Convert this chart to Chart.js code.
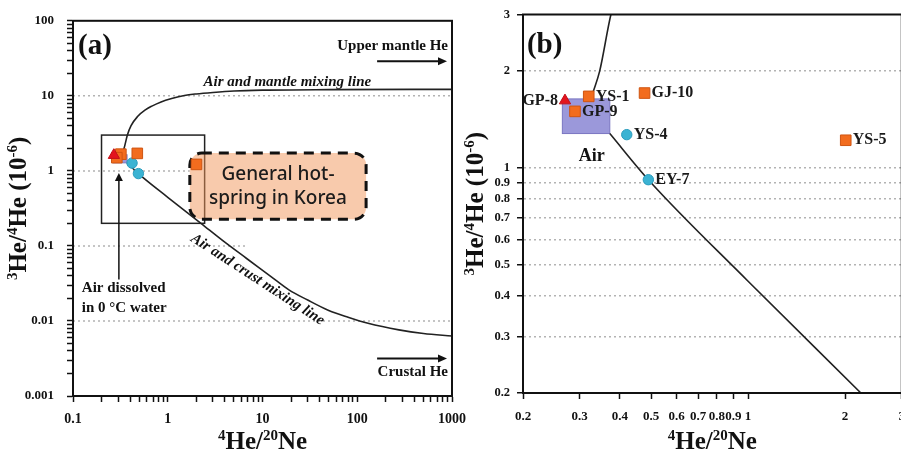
<!DOCTYPE html>
<html><head><meta charset="utf-8">
<script src="https://cdn.jsdelivr.net/npm/chart.js@4.4.1/dist/chart.umd.min.js"></script>
<style>
html,body{margin:0;padding:0;background:#fff;overflow:hidden;width:901px;height:453px;position:relative;}
#ca{position:absolute;left:0;top:0;z-index:2;}
#cb{position:absolute;left:460px;top:0;z-index:1;}
</style></head><body>
<canvas id="ca" width="480" height="453"></canvas>
<canvas id="cb" width="455" height="453"></canvas>
<script>
// ---------- data ----------
const triNames = ['GP-8'];
const triX = [0.27];
const triY = [1.62];
const sqNames = ['YS-1', 'GP-9', 'GJ-10', 'YS-5'];
const sqX = [0.32, 0.29, 0.477, 2.01];
const sqY = [1.67, 1.50, 1.71, 1.22];
const ciNames = ['YS-4', 'EY-7'];
const ciX = [0.42, 0.49];
const ciY = [1.27, 0.92];

// mixing lines
const mantleLineX = [0.33, 0.346, 0.375, 0.41, 0.48, 0.58, 0.68, 0.85, 1.1, 1.5, 2, 3, 5, 10, 50, 1000];
const mantleLineY = [1.72, 2.0, 3.0, 4.0, 5.3, 6.5, 7.3, 8.3, 9.2, 10.1, 10.6, 11.1, 11.6, 11.9, 12.1, 12.2];
const crustLineX = [0.372, 0.49, 1.0, 2.24, 4, 6.8, 12, 19, 30, 50, 80, 130, 275, 500, 1000];
const crustLineY = [1.28, 0.92, 0.445, 0.2, 0.112, 0.068, 0.04, 0.026, 0.019, 0.0138, 0.0112, 0.0093, 0.0076, 0.0068, 0.0063];

// regions
const airBoxX = [0.265, 0.372];
const airBoxY = [1.28, 1.64];
const zoomBoxX = [0.2, 2.45];
const zoomBoxY = [0.2, 3];
const hotSpringBoxX = [1.71, 124];
const hotSpringBoxY = [0.227, 1.725];
const airWaterHeNe = 0.305;

// ticks
const aTicksX = [0.1, 1, 10, 100, 1000];
const aTicksY = [0.001, 0.01, 0.1, 1, 10, 100];
const bTicksX = [0.2, 0.3, 0.4, 0.5, 0.6, 0.7, 0.8, 0.9, 1, 2, 3];
const bTicksY = [0.2, 0.3, 0.4, 0.5, 0.6, 0.7, 0.8, 0.9, 1, 2, 3];
// dotted reference lines of panel (a): level and x where each ends
const aGridY = [10, 1, 0.1, 0.01];
const aGridEndX = [1000, 1.71, 6.8, 1000];

// axis titles (text, superscript flag)
const xTitleParts = [['4', true], ['He/', false], ['20', true], ['Ne', false]];
const yTitleParts = [['3', true], ['He/', false], ['4', true], ['He (10', false], ['-6', true], [')', false]];

// ---------- helpers ----------
const SERIF = "'Liberation Serif','Times New Roman',serif";
const SANS = "'Noto Sans','Open Sans',sans-serif";
const pts = (xs, ys) => xs.map((x, i) => ({x, y: ys[i]}));
function logTicks(majors) {
  const out = [];
  majors.forEach((M, i) => {
    out.push(M);
    if (i < majors.length - 1) for (let m = 2; m <= 9; m++) out.push(+(m * M).toPrecision(6));
  });
  return out;
}
function P(chart, x, y) { return [chart.scales.x.getPixelForValue(x), chart.scales.y.getPixelForValue(y)]; }
function txt(ctx, s, x, y, font, align, base, rot, color) {
  ctx.save();
  ctx.font = font; ctx.fillStyle = color || '#111';
  ctx.textAlign = align || 'left'; ctx.textBaseline = base || 'middle';
  ctx.translate(x, y);
  if (rot) ctx.rotate(rot * Math.PI / 180);
  ctx.fillText(s, 0, 0);
  ctx.restore();
}
// rich title with superscripts, centred on (x, y)
function richTitle(ctx, parts, x, y, rot) {
  const main = `bold 25px ${SERIF}`, sup = `bold 15px ${SERIF}`;
  ctx.save();
  let w = 0;
  parts.forEach(([t, s]) => { ctx.font = s ? sup : main; w += ctx.measureText(t).width; });
  ctx.translate(x, y);
  if (rot) ctx.rotate(rot * Math.PI / 180);
  ctx.fillStyle = '#111'; ctx.textBaseline = 'alphabetic'; ctx.textAlign = 'left';
  let cx = -w / 2;
  parts.forEach(([t, s]) => {
    ctx.font = s ? sup : main;
    ctx.fillText(t, cx, s ? -1 : 8);
    cx += ctx.measureText(t).width;
  });
  ctx.restore();
}
function arrow(ctx, x1, y1, x2, y2, lw, hl, hw) {
  const a = Math.atan2(y2 - y1, x2 - x1), c = Math.cos(a), s = Math.sin(a);
  ctx.save(); ctx.strokeStyle = '#111'; ctx.fillStyle = '#111'; ctx.lineWidth = lw;
  ctx.beginPath(); ctx.moveTo(x1, y1); ctx.lineTo(x2 - hl * c, y2 - hl * s); ctx.stroke();
  ctx.beginPath(); ctx.moveTo(x2, y2);
  ctx.lineTo(x2 - hl * c + hw * s, y2 - hl * s - hw * c);
  ctx.lineTo(x2 - hl * c - hw * s, y2 - hl * s + hw * c);
  ctx.closePath(); ctx.fill(); ctx.restore();
}
function airBox(chart) {
  const ctx = chart.ctx;
  const [x0, y0] = P(chart, airBoxX[0], airBoxY[1]);
  const [x1, y1] = P(chart, airBoxX[1], airBoxY[0]);
  ctx.save(); ctx.fillStyle = '#9b98da'; ctx.strokeStyle = '#7a76c2'; ctx.lineWidth = 1;
  ctx.fillRect(x0, y0, x1 - x0, y1 - y0); ctx.strokeRect(x0, y0, x1 - x0, y1 - y0); ctx.restore();
}
function frameAndTitles(chart, yTitleX) {
  const a = chart.chartArea, ctx = chart.ctx;
  ctx.save(); ctx.strokeStyle = '#111'; ctx.lineWidth = 2;
  ctx.strokeRect(a.left, a.top, a.right - a.left, a.bottom - a.top); ctx.restore();
  richTitle(ctx, xTitleParts, (a.left + a.right) / 2, 441, 0);
  richTitle(ctx, yTitleParts, yTitleX, (a.top + a.bottom) / 2, -90);
}

function pointSets() {
  return [
    {label: 'tri', data: pts(triX, triY), pointStyle: 'triangle', pointRadius: 6.5, backgroundColor: '#e3141e', borderColor: '#c40f18', borderWidth: 1, order: 0, names: triNames},
    {label: 'sq', data: pts(sqX, sqY), pointStyle: 'rect', pointRadius: 7.5, backgroundColor: '#f26c1e', borderColor: '#cf5512', borderWidth: 1, order: 0, names: sqNames},
    {label: 'ci', data: pts(ciX, ciY), pointStyle: 'circle', pointRadius: 5.2, backgroundColor: '#3bb3d3', borderColor: '#2a9cbd', borderWidth: 1, order: 0, names: ciNames},
    {label: 'mantle', data: pts(mantleLineX, mantleLineY), showLine: true, pointRadius: 0, borderColor: '#222', borderWidth: 1.6, cubicInterpolationMode: 'monotone', order: 2},
    {label: 'crust', data: pts(crustLineX, crustLineY), showLine: true, pointRadius: 0, borderColor: '#222', borderWidth: 1.6, cubicInterpolationMode: 'monotone', order: 2}
  ];
}

// ---------- panel (a) ----------
const aValsX = logTicks(aTicksX), aValsY = logTicks(aTicksY);
const plugA = {
  id: 'annA',
  beforeDatasetsDraw(chart) {
    const ctx = chart.ctx;
    ctx.save(); ctx.strokeStyle = '#b3b3b3'; ctx.lineWidth = 1.5; ctx.setLineDash([2, 3]);
    aGridY.forEach((g, i) => {
      const [x0, y] = P(chart, aTicksX[0], g); const [x1] = P(chart, aGridEndX[i], g);
      ctx.beginPath(); ctx.moveTo(x0, y); ctx.lineTo(x1, y); ctx.stroke();
    });
    ctx.restore();
    const [zx0, zy0] = P(chart, zoomBoxX[0], zoomBoxY[1]);
    const [zx1, zy1] = P(chart, zoomBoxX[1], zoomBoxY[0]);
    ctx.save(); ctx.strokeStyle = '#222'; ctx.lineWidth = 1.5;
    ctx.strokeRect(zx0, zy0, zx1 - zx0, zy1 - zy0); ctx.restore();
    airBox(chart);
    const [hx0, hy0] = P(chart, hotSpringBoxX[0], hotSpringBoxY[1]);
    const [hx1, hy1] = P(chart, hotSpringBoxX[1], hotSpringBoxY[0]);
    ctx.save(); ctx.beginPath();
    if (ctx.roundRect) ctx.roundRect(hx0, hy0, hx1 - hx0, hy1 - hy0, 12); else ctx.rect(hx0, hy0, hx1 - hx0, hy1 - hy0);
    ctx.fillStyle = 'rgba(242,150,90,0.5)'; ctx.fill();
    ctx.setLineDash([10, 7]); ctx.lineWidth = 3; ctx.strokeStyle = '#111'; ctx.stroke(); ctx.restore();
    const cx = (hx0 + hx1) / 2;
    txt(ctx, 'General hot-', cx, P(chart, 1, 0.886)[1], `500 19px ${SANS}`, 'center', 'middle', 0, '#1c1c1c');
    txt(ctx, 'spring in Korea', cx, P(chart, 1, 0.428)[1], `500 19px ${SANS}`, 'center', 'middle', 0, '#1c1c1c');
  },
  afterDatasetsDraw(chart) {
    const ctx = chart.ctx;
    let p;
    p = P(chart, 0.113, 35.7); txt(ctx, '(a)', p[0], p[1], `bold 29px ${SERIF}`, 'left', 'alphabetic');
    p = P(chart, 908, 45.5); txt(ctx, 'Upper mantle He', p[0], p[1], `bold 15px ${SERIF}`, 'right', 'middle');
    let a0 = P(chart, 162, 28.9), a1 = P(chart, 886, 28.9); arrow(ctx, a0[0], a0[1], a1[0], a1[1], 2, 9, 4);
    p = P(chart, 18.3, 15.3); txt(ctx, 'Air and mantle mixing line', p[0], p[1], `italic bold 15px ${SERIF}`, 'center', 'middle');
    p = P(chart, 0.124, 0.027); txt(ctx, 'Air dissolved', p[0], p[1], `bold 15px ${SERIF}`, 'left', 'middle');
    p = P(chart, 0.124, 0.0148); txt(ctx, 'in 0 \u00B0C water', p[0], p[1], `bold 15px ${SERIF}`, 'left', 'middle');
    a0 = P(chart, airWaterHeNe, 0.0356); a1 = P(chart, airWaterHeNe, 0.94); arrow(ctx, a0[0], a0[1], a1[0], a1[1], 1.5, 8, 4);
    p = P(chart, 908, 0.00209); txt(ctx, 'Crustal He', p[0], p[1], `bold 15px ${SERIF}`, 'right', 'middle');
    a0 = P(chart, 162, 0.00316); a1 = P(chart, 886, 0.00316); arrow(ctx, a0[0], a0[1], a1[0], a1[1], 2, 9, 4);
    p = P(chart, 8.86, 0.0356); txt(ctx, 'Air and crust mixing line', p[0], p[1], `italic bold 15px ${SERIF}`, 'center', 'middle', 33);
    frameAndTitles(chart, 18);
  }
};

new Chart(document.getElementById('ca'), {
  type: 'scatter',
  data: {datasets: pointSets()},
  options: {
    responsive: false, animation: false, events: [],
    layout: {padding: {top: 16, right: 28, left: 0, bottom: 0}},
    plugins: {legend: {display: false}, tooltip: {enabled: false}},
    scales: {
      x: {
        type: 'logarithmic', min: 0.1, max: 1000,
        afterBuildTicks: s => { s.ticks = aValsX.map(v => ({value: v, major: aTicksX.includes(v)})); },
        afterFit: s => { s.height = 57; },
        ticks: {autoSkip: false, maxRotation: 0, padding: 9, color: '#111', font: {family: SERIF, size: 14, weight: 'bold'},
          callback: v => aTicksX.includes(v) ? String(v) : ''},
        grid: {drawOnChartArea: false, drawTicks: true, tickLength: 6, tickColor: '#111', tickWidth: 1.5},
        border: {display: true, color: '#111', width: 2},
        title: {display: false, text: '4He/20Ne'}
      },
      y: {
        type: 'logarithmic', min: 0.001, max: 100,
        afterBuildTicks: s => { s.ticks = aValsY.map(v => ({value: v, major: aTicksY.includes(v)})); },
        afterFit: s => { s.width = 73; },
        ticks: {autoSkip: false, padding: 13, color: '#111', font: {family: SERIF, size: 13, weight: 'bold'},
          callback: v => aTicksY.includes(v) ? String(v) : ''},
        grid: {drawOnChartArea: false, drawTicks: true, tickLength: 6, tickColor: '#111', tickWidth: 1.5},
        border: {display: true, color: '#111', width: 2},
        title: {display: false, text: '3He/4He (10-6)'}
      }
    }
  },
  plugins: [plugA]
});

// ---------- panel (b) ----------
const plugB = {
  id: 'annB',
  beforeDatasetsDraw(chart) { airBox(chart); },
  afterDatasetsDraw(chart) {
    const ctx = chart.ctx;
    let p = P(chart, 0.2057, 2.27); txt(ctx, '(b)', p[0], p[1], `bold 29px ${SERIF}`, 'left', 'alphabetic');
    p = P(chart, 0.327, 1.09); txt(ctx, 'Air', p[0], p[1], `bold 18px ${SERIF}`, 'center', 'middle');
    chart.data.datasets.forEach((ds, di) => {
      if (!ds.names) return;
      chart.getDatasetMeta(di).data.forEach((el, i) => {
        const name = ds.names[i];
        const left = name === 'GP-8';
        txt(ctx, name, el.x + (left ? -7 : 7), el.y, `bold 16px ${SERIF}`, left ? 'right' : 'left', 'middle', 0, '#1a1a1a');
      });
    });
    frameAndTitles(chart, 15);
  }
};

new Chart(document.getElementById('cb'), {
  type: 'scatter',
  data: {datasets: pointSets()},
  options: {
    responsive: false, animation: false, events: [],
    layout: {padding: {top: 13, right: 12, left: 0, bottom: 0}},
    plugins: {legend: {display: false}, tooltip: {enabled: false}},
    scales: {
      x: {
        type: 'logarithmic', min: 0.2, max: 3,
        afterBuildTicks: s => { s.ticks = bTicksX.map(v => ({value: v})); },
        afterFit: s => { s.height = 60; },
        ticks: {autoSkip: false, maxRotation: 0, padding: 10, color: '#111', font: {family: SERIF, size: 13, weight: 'bold'},
          callback: v => String(v)},
        grid: {drawOnChartArea: false, drawTicks: true, tickLength: 6, tickColor: '#111', tickWidth: 1.5},
        border: {display: true, color: '#111', width: 2},
        title: {display: false, text: '4He/20Ne'}
      },
      y: {
        type: 'logarithmic', min: 0.2, max: 3,
        afterBuildTicks: s => { s.ticks = bTicksY.map(v => ({value: v})); },
        afterFit: s => { s.width = 63; },
        ticks: {autoSkip: false, padding: 7, color: '#111', font: {family: SERIF, size: 12.5, weight: 'bold'},
          callback: v => String(v)},
        grid: {drawOnChartArea: true, drawTicks: true, tickLength: 6, tickColor: '#111', tickWidth: 1.5, lineWidth: 1.5,
          color: c => (c.tick && (c.tick.value === 3 || c.tick.value === 0.2)) ? 'rgba(0,0,0,0)' : '#b3b3b3'},
        border: {display: true, color: '#111', width: 2, dash: [2, 3]},
        title: {display: false, text: '3He/4He (10-6)'}
      }
    }
  },
  plugins: [plugB]
});
</script>
</body></html>
